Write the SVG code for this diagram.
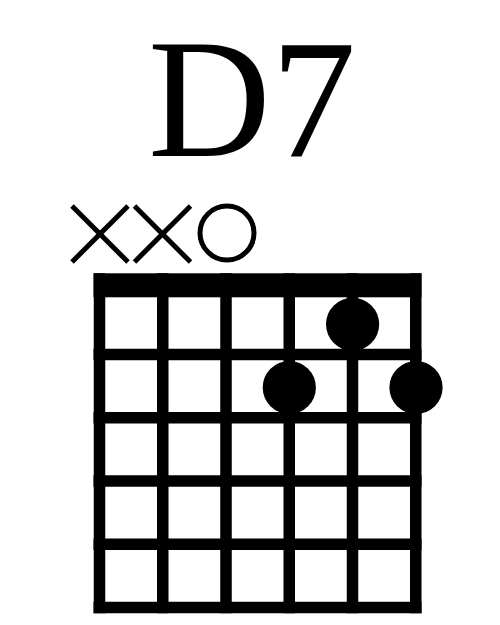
<svg xmlns="http://www.w3.org/2000/svg" width="500" height="625" viewBox="0 0 500 625">
<style>
.title{font-family:"Liberation Serif","Times New Roman",serif;font-size:170px;fill:#000}
.grid line{stroke:#000;stroke-width:11.5}
.mark{stroke:#000;stroke-width:5;fill:none}
.dot{fill:#000}
</style>
<rect width="500" height="625" fill="#fff"/>
<g id="title"><text class="title" x="252" y="156" text-anchor="middle">D7</text></g>
<g id="markers">
<g id="mute6"><line class="mark" x1="72" y1="206" x2="128" y2="262"/><line class="mark" x1="128" y1="206" x2="72" y2="262"/></g>
<g id="mute5"><line class="mark" x1="134.5" y1="206" x2="190.5" y2="262"/><line class="mark" x1="190.5" y1="206" x2="134.5" y2="262"/></g>
<g id="open4"><circle class="mark" cx="227" cy="233" r="27" stroke-width="5.5"/></g>
</g>
<g id="grid" class="grid">
<rect x="93.5" y="273.3" width="328" height="24" fill="#000"/>
<line x1="99.5" y1="273.3" x2="99.5" y2="613.3"/>
<line x1="162.75" y1="273.3" x2="162.75" y2="613.3"/>
<line x1="226" y1="273.3" x2="226" y2="613.3"/>
<line x1="289.25" y1="273.3" x2="289.25" y2="613.3"/>
<line x1="352.5" y1="273.3" x2="352.5" y2="613.3"/>
<line x1="415.75" y1="273.3" x2="415.75" y2="613.3"/>
<line x1="93.5" y1="354.55" x2="421.5" y2="354.55"/>
<line x1="93.5" y1="417.8" x2="421.5" y2="417.8"/>
<line x1="93.5" y1="481.05" x2="421.5" y2="481.05"/>
<line x1="93.5" y1="544.3" x2="421.5" y2="544.3"/>
<line x1="93.5" y1="607.55" x2="421.5" y2="607.55"/>
</g>
<g id="dots">
<circle id="dot-b1" class="dot" cx="352.6" cy="324.3" r="26.6"/>
<circle id="dot-g2" class="dot" cx="289.3" cy="387.5" r="26.6"/>
<circle id="dot-e2" class="dot" cx="416" cy="387.5" r="26.6"/>
</g>
</svg>
